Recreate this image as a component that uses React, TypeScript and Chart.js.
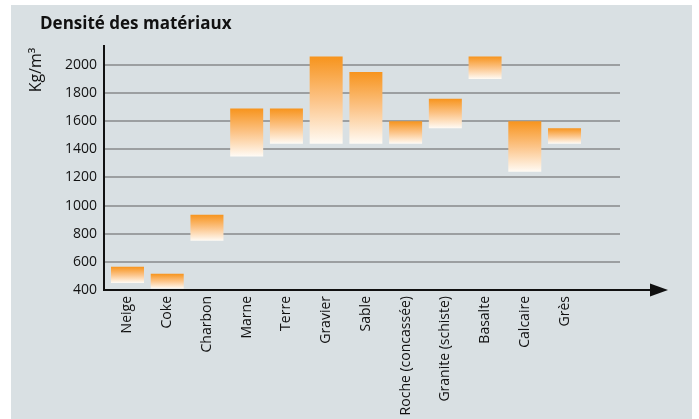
import React, { useEffect, useRef } from "react";
import { Chart, registerables } from "chart.js";

Chart.register(...registerables);

const categories = [
  "Neige",
  "Coke",
  "Charbon",
  "Marne",
  "Terre",
  "Gravier",
  "Sable",
  "Roche (concassée)",
  "Granite (schiste)",
  "Basalte",
  "Calcaire",
  "Grès",
];
const lowValues = [450, 410, 750, 1350, 1440, 1440, 1440, 1440, 1550, 1900, 1240, 1440];
const highValues = [565, 515, 935, 1690, 1690, 2060, 1950, 1600, 1760, 2060, 1600, 1550];
const yTicks = [400, 600, 800, 1000, 1200, 1400, 1600, 1800, 2000];

const titleText = "Densité des matériaux";
const yTitleText = "Kg/m³";

const FONT = "'Open Sans', 'DejaVu Sans', sans-serif";

const decorPlugin = {
  id: "decor",
  beforeDraw(chart: any) {
    const { ctx, width, height } = chart;
    ctx.save();
    ctx.fillStyle = "#ffffff";
    ctx.fillRect(0, 0, width, height);
    ctx.fillStyle = "#d9e0e3";
    ctx.fillRect(11, 5, 681, 414);
    ctx.restore();
  },
  afterDatasetsDraw(chart: any) {
    const { ctx, chartArea } = chart;
    const yb = chart.scales.y.getPixelForValue(400);
    ctx.save();
    ctx.strokeStyle = "#111111";
    ctx.lineWidth = 2;
    // y axis
    ctx.beginPath();
    ctx.moveTo(chartArea.left, chartArea.top);
    ctx.lineTo(chartArea.left, yb + 1);
    ctx.stroke();
    // x axis with arrow
    ctx.beginPath();
    ctx.moveTo(chartArea.left - 1, yb);
    ctx.lineTo(652, yb);
    ctx.stroke();
    ctx.fillStyle = "#111111";
    ctx.beginPath();
    ctx.moveTo(650, yb - 6.5);
    ctx.lineTo(668, yb);
    ctx.lineTo(650, yb + 6.5);
    ctx.closePath();
    ctx.fill();
    // title
    ctx.fillStyle = "#111111";
    ctx.font = `bold 17px ${FONT}`;
    ctx.textBaseline = "middle";
    ctx.textAlign = "left";
    ctx.fillText(titleText, 40, 24);
    // y title
    ctx.translate(36, 70);
    ctx.rotate(-Math.PI / 2);
    ctx.font = `16px ${FONT}`;
    ctx.textAlign = "center";
    ctx.fillText(yTitleText, 0, 0);
    ctx.restore();
  },
};

function barGradient(context: any) {
  if (context.type !== "data") return "#f7941d";
  const chart = context.chart;
  const y = chart.scales && chart.scales.y;
  if (!y) return "#f7941d";
  const i = context.dataIndex;
  const top = y.getPixelForValue(highValues[i]);
  const bottom = y.getPixelForValue(lowValues[i]);
  if (!isFinite(top) || !isFinite(bottom) || top === bottom) return "#f7941d";
  const g = chart.ctx.createLinearGradient(0, top, 0, bottom);
  g.addColorStop(0, "#f7941d");
  g.addColorStop(0.5, "#fcc488");
  g.addColorStop(1, "#fffbf5");
  return g;
}

export default function App() {
  const canvasRef = useRef<HTMLCanvasElement | null>(null);

  useEffect(() => {
    const canvas = canvasRef.current;
    if (!canvas) return;
    const step = 39.73;
    const xMin = -(127.5 - 104) / step;
    const xMax = xMin + (620 - 104) / step;
    const chart = new Chart(canvas, {
      type: "bar",
      data: {
        datasets: [
          {
            data: categories.map((_, i) => ({ x: i, y: [lowValues[i], highValues[i]] })) as any,
            backgroundColor: barGradient as any,
            borderWidth: 0,
            barPercentage: 33 / step,
            categoryPercentage: 1,
          },
        ],
      },
      options: {
        animation: false,
        responsive: false,
        devicePixelRatio: 1,
        layout: { padding: { left: 0, top: 45, right: 79, bottom: 0 } },
        plugins: {
          legend: { display: false },
          tooltip: { enabled: false },
          title: { display: false },
        },
        scales: {
          x: {
            type: "linear",
            min: xMin,
            max: xMax,
            offset: false,
            grid: { display: false, offset: false, drawTicks: false },
            border: { display: false },
            afterBuildTicks: (scale: any) => {
              scale.ticks = categories.map((_, i) => ({ value: i }));
            },
            afterFit: (scale: any) => {
              scale.height = 129;
            },
            ticks: {
              autoSkip: false,
              minRotation: 90,
              maxRotation: 90,
              padding: 6,
              color: "#111111",
              font: { family: FONT, size: 14 },
              callback: (v: any) => categories[v] ?? "",
            },
          },
          y: {
            min: 400,
            max: 2142,
            afterBuildTicks: (scale: any) => {
              scale.ticks = yTicks.map((v) => ({ value: v }));
            },
            afterFit: (scale: any) => {
              scale.width = 104;
            },
            grid: { color: "#9c9fa1", lineWidth: 2, drawTicks: false },
            border: { display: false },
            ticks: {
              padding: 7,
              color: "#111111",
              font: { family: FONT, size: 14 },
              callback: (v: any) => String(v),
            },
          },
        },
      },
      plugins: [decorPlugin],
    });
    return () => chart.destroy();
  }, []);

  return (
    <div style={{ position: "fixed", left: 0, top: 0, width: 699, height: 419 }}>
      <canvas ref={canvasRef} width={699} height={419} style={{ display: "block" }} />
    </div>
  );
}
